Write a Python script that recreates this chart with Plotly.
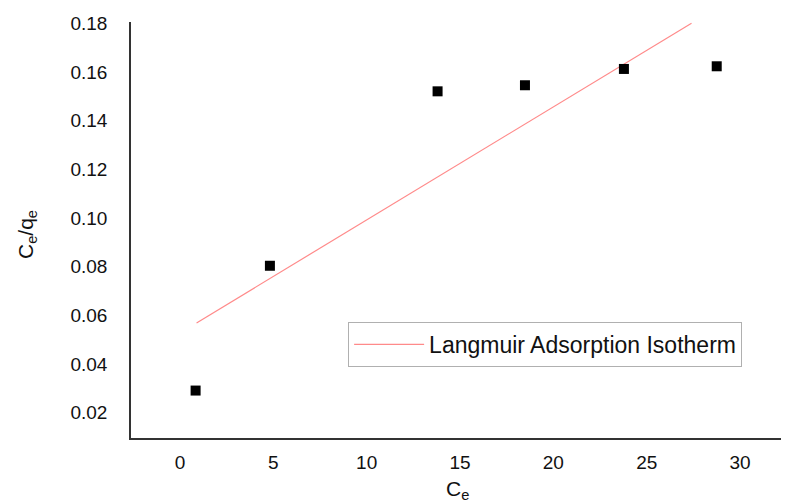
import plotly.graph_objects as go

# Data
ce_values = [0.84, 4.82, 13.8, 18.48, 23.78, 28.75]
ce_qe_values = [0.0291, 0.0804, 0.1521, 0.1546, 0.1613, 0.1624]

fit_x = [0.89, 27.4]
fit_y = [0.0569, 0.1801]
fit_name = "Langmuir Adsorption Isotherm"

x_ticks = [0, 5, 10, 15, 20, 25, 30]
y_ticks = [0.02, 0.04, 0.06, 0.08, 0.10, 0.12, 0.14, 0.16, 0.18]

x_title = "C<sub>e</sub>"
y_title = "C<sub>e</sub>/q<sub>e</sub>"

font_family = "Liberation Sans, Arial, sans-serif"

fig = go.Figure()
fig.add_trace(go.Scatter(
    x=fit_x, y=fit_y, mode="lines", name=fit_name,
    line=dict(color="#ff8a8a", width=1.2), showlegend=True,
))
fig.add_trace(go.Scatter(
    x=ce_values, y=ce_qe_values, mode="markers", name="data",
    marker=dict(symbol="square", size=10, color="black"),
    showlegend=False,
))

# The page body adds an 8px offset, so the figure is 8px smaller than the window
fig.update_layout(
    width=781, height=496,
    margin=dict(l=123, r=6, t=14, b=66),
    paper_bgcolor="white", plot_bgcolor="white",
    font=dict(family=font_family, color="#111111", size=19),
    legend=dict(
        x=0.333, y=0.279, xanchor="left", yanchor="top",
        bordercolor="#b0b0b0", borderwidth=1, bgcolor="white",
        itemwidth=70,
        font=dict(size=23, family=font_family, color="#111111"),
    ),
    annotations=[
        dict(text=y_title, xref="paper", yref="paper", x=-0.1595, y=0.488,
             xanchor="center", yanchor="middle", textangle=-90, showarrow=False,
             font=dict(size=21, family=font_family, color="#111111")),
        dict(text=x_title, xref="paper", yref="paper", x=0.5, y=-0.125,
             xanchor="center", yanchor="middle", showarrow=False,
             font=dict(size=21, family=font_family, color="#111111")),
    ],
)
fig.update_xaxes(
    range=[-2.62, 32.3], tickvals=x_ticks, ticktext=[str(v) for v in x_ticks],
    showgrid=False, zeroline=False, showline=True, linecolor="#333333", linewidth=1.5,
    ticks="", ticklabelstandoff=6, tickfont=dict(size=19), automargin=False,
)
fig.update_yaxes(
    range=[0.0096, 0.1806], tickvals=y_ticks, ticktext=["%.2f" % v for v in y_ticks],
    showgrid=False, zeroline=False, showline=True, linecolor="#333333", linewidth=1.5,
    ticks="", ticklabelstandoff=18, tickfont=dict(size=19), automargin=False,
)

fig.write_html("out.html")
